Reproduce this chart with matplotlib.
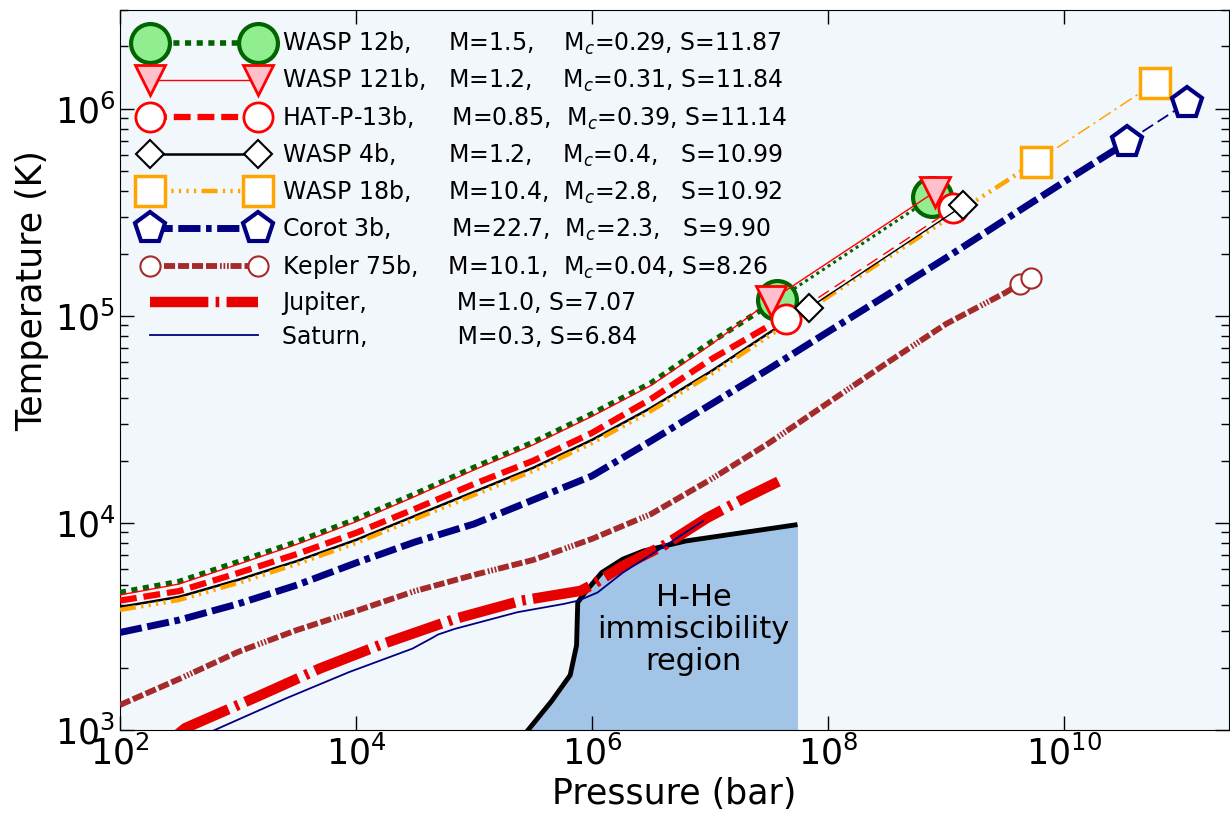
import numpy as np
import matplotlib
matplotlib.use("Agg")
import matplotlib.pyplot as plt
from matplotlib.lines import Line2D

# log10 pressure (bar) at which the envelope profiles were read
logp = [2.0, 2.5, 3.0, 3.5, 4.0, 4.5, 5.0, 5.5, 6.0, 6.5, 7.0, 7.5,
        8.0, 8.5, 9.0, 9.5, 10.0, 10.5]

# log10 temperature (K) of each planet on that grid (up to its first marker)
wasp12_logt = [3.664, 3.717, 3.812, 3.909, 4.018, 4.140, 4.268, 4.389, 4.527, 4.676, 4.870, 5.053]
wasp121_logt = [3.652, 3.705, 3.800, 3.897, 4.006, 4.128, 4.256, 4.377, 4.515, 4.664, 4.858]
hatp13_logt = [3.625, 3.671, 3.758, 3.850, 3.952, 4.068, 4.188, 4.300, 4.435, 4.599, 4.787, 4.952]
wasp4_logt = [3.594, 3.643, 3.725, 3.816, 3.918, 4.034, 4.150, 4.266, 4.401, 4.556, 4.729, 4.918]
wasp18_logt = [3.580, 3.628, 3.710, 3.802, 3.903, 4.019, 4.135, 4.251, 4.386, 4.541, 4.715, 4.903,
               5.092, 5.280, 5.464, 5.647]
corot3_logt = [3.471, 3.531, 3.609, 3.700, 3.807, 3.908, 3.995, 4.111, 4.227, 4.396, 4.570, 4.744,
               4.923, 5.101, 5.280, 5.464, 5.647, 5.826]
kepler75_logt = [3.121, 3.246, 3.377, 3.483, 3.575, 3.671, 3.749, 3.821, 3.923, 4.043, 4.208, 4.386,
                 4.580, 4.773, 4.961, 5.111]

# marker pairs (log P, log T): envelope base and centre
wasp12_mark_logp, wasp12_mark_logt = [7.570, 8.884], [5.077, 5.573]
wasp121_mark_logp, wasp121_mark_logt = [7.514, 8.909], [5.074, 5.600]
hatp13_mark_logp, hatp13_mark_logt = [7.644, 9.062], [4.984, 5.520]
wasp4_mark_logp, wasp4_mark_logt = [7.836, 9.147], [5.037, 5.533]
wasp18_mark_logp, wasp18_mark_logt = [9.763, 10.771], [5.745, 6.124]
corot3_mark_logp, corot3_mark_logt = [10.536, 11.045], [5.842, 6.030]
kepler75_mark_logp, kepler75_mark_logt = [9.627, 9.718], [5.155, 5.182]

# Jupiter and Saturn profiles
jupiter_logp = [2.480, 2.553, 3.159, 3.694, 4.229, 4.835, 5.405, 5.904, 6.011, 6.261, 6.617, 6.974, 7.297, 7.580]
jupiter_logt = [2.975, 3.009, 3.160, 3.297, 3.416, 3.536, 3.625, 3.672, 3.704, 3.792, 3.894, 4.024, 4.121, 4.200]
saturn_logp = [2.720, 2.803, 3.408, 3.943, 4.478, 4.653, 4.695, 4.835, 5.369, 5.762, 5.886, 6.047, 6.261, 6.617, 6.938]
saturn_logt = [2.975, 3.000, 3.153, 3.280, 3.393, 3.447, 3.461, 3.488, 3.569, 3.609, 3.625, 3.664, 3.760, 3.889, 4.008]

# H-He immiscibility boundary
hhe_logp = [5.390, 5.654, 5.815, 5.869, 5.879, 5.940, 6.082, 6.261, 6.439, 6.796, 7.741]
hhe_logt = [2.952, 3.137, 3.265, 3.409, 3.616, 3.664, 3.760, 3.825, 3.865, 3.913, 3.992]

labels = [
    "WASP 12b,     M=1.5,    M$_c$=0.29, S=11.87",
    "WASP 121b,   M=1.2,    M$_c$=0.31, S=11.84",
    "HAT-P-13b,     M=0.85,  M$_c$=0.39, S=11.14",
    "WASP 4b,       M=1.2,    M$_c$=0.4,   S=10.99",
    "WASP 18b,     M=10.4,  M$_c$=2.8,   S=10.92",
    "Corot 3b,        M=22.7,  M$_c$=2.3,   S=9.90",
    "Kepler 75b,    M=10.1,  M$_c$=0.04, S=8.26",
    "Jupiter,            M=1.0, S=7.07",
    "Saturn,            M=0.3, S=6.84",
]

planets = [
    # logt, mark logp, mark logt, color, lw, dashes, thin lw, thin dashes, marker, ms, face, mew
    (wasp12_logt, wasp12_mark_logp, wasp12_mark_logt, "darkgreen", 4.0, (0, (1.1, 1.0)), 2.2, (0, (1, 1.2)), "o", 28, "lightgreen", 3.0),
    (wasp121_logt, wasp121_mark_logp, wasp121_mark_logt, "red", 1.0, "-", 1.0, "-", "v", 22, "pink", 2.0),
    (hatp13_logt, hatp13_mark_logp, hatp13_mark_logt, "red", 4.5, (0, (2.7, 1.1)), 1.0, (0, (9, 5)), "o", 21, "white", 2.0),
    (wasp4_logt, wasp4_mark_logp, wasp4_mark_logt, "black", 1.8, "-", 1.0, "-", "D", 14.5, "white", 1.5),
    (wasp18_logt, wasp18_mark_logp, wasp18_mark_logt, "orange", 3.2,
     (0, (3.6, 1.2, 0.5, 1.2, 0.5, 1.2, 0.5, 1.2, 0.5, 1.2)), 1.1, (0, (9, 3, 1.5, 3)), "s", 21, "white", 2.5),
    (corot3_logt, corot3_mark_logp, corot3_mark_logt, "navy", 5.0, (0, (3.2, 0.8, 3.2, 0.8, 0.8, 0.8)),
     1.3, (0, (7, 3)), "p", 23, "white", 3.0),
    (kepler75_logt, kepler75_mark_logp, kepler75_mark_logt, "brown", 4.2,
     (0, (1.9, 0.5, 1.9, 0.5, 1.9, 0.5, 1.9, 0.5, 1.9, 0.5, 0.3, 0.3, 0.3, 0.3, 0.3, 0.3)),
     1.2, "-", "o", 14.5, "white", 1.5),
]

fig = plt.figure(figsize=(12.3, 8.16), dpi=100)
ax = fig.add_axes([120 / 1230, 86 / 816, 1109 / 1230, 720 / 816])
ax.set_facecolor("#f2f7fc")

# H-He immiscibility region
hp = 10 ** np.array(hhe_logp)
ht = 10 ** np.array(hhe_logt)
ax.fill_between(hp, ht, 1e2, color="#a2c4e6", lw=0, zorder=1)
ax.plot(hp, ht, color="black", lw=3.5, zorder=2, solid_capstyle="butt")
ax.text(10 ** 6.86, 10 ** 3.485, "H-He\nimmiscibility\nregion", fontsize=22, ha="center", va="center",
        linespacing=1.12, zorder=3)

handles = []
for (lt, mp, mt, col, lw, ls, tlw, tls, mk, ms, fc, mew) in planets:
    x = 10 ** np.array(logp[:len(lt)] + [mp[0]])
    y = 10 ** np.array(lt + [mt[0]])
    ax.plot(x, y, color=col, lw=lw, linestyle=ls, zorder=4)
    ax.plot(10 ** np.array(mp), 10 ** np.array(mt), color=col, lw=tlw, linestyle=tls,
            marker=mk, ms=ms, mfc=fc, mec=col, mew=mew, zorder=5)
    handles.append(Line2D([], [], color=col, lw=lw, linestyle=ls, marker=mk, ms=ms,
                          mfc=fc, mec=col, mew=mew))

jup_ls = (0, (5.6, 0.7, 0.35, 0.7))
ax.plot(10 ** np.array(jupiter_logp), 10 ** np.array(jupiter_logt), color="#e60000", lw=7.5,
        linestyle=jup_ls, zorder=6)
ax.plot(10 ** np.array(saturn_logp), 10 ** np.array(saturn_logt), color="navy", lw=1.3, zorder=7)
handles.append(Line2D([], [], color="#e60000", lw=7.5, linestyle=jup_ls))
handles.append(Line2D([], [], color="navy", lw=1.3))

ax.set_xscale("log")
ax.set_yscale("log")
ax.set_xlim(1e2, 2.5e11)
ax.set_ylim(1e3, 3e6)
ax.xaxis.set_major_locator(matplotlib.ticker.FixedLocator([1e2, 1e4, 1e6, 1e8, 1e10]))
ax.xaxis.set_minor_locator(matplotlib.ticker.NullLocator())
ax.tick_params(which="both", direction="in", top=True, right=True, labelsize=25)
ax.tick_params(which="major", length=10, width=1)
ax.tick_params(which="minor", length=6, width=1)
ax.set_xlabel("Pressure (bar)", fontsize=25)
ax.set_ylabel("Temperature (K)", fontsize=25)
ax.yaxis.set_label_coords(-0.064, 0.61)

leg = ax.legend(handles, labels, loc="upper left", bbox_to_anchor=(0.0207, 0.972), frameon=False,
                fontsize=17, numpoints=2, handlelength=5.18, handletextpad=0.71,
                labelspacing=0.42, borderaxespad=0, borderpad=0)
leg.set_zorder(10)

fig.savefig("out.png", dpi=100)
